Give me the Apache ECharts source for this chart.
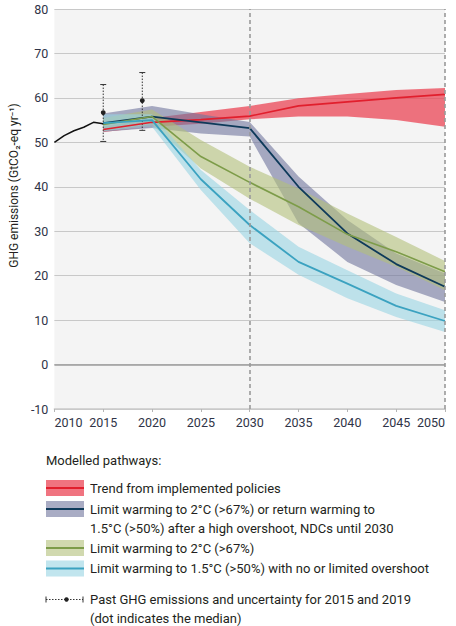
<!DOCTYPE html>
<html>
<head>
<meta charset="utf-8">
<script src="https://cdn.jsdelivr.net/npm/echarts@6/dist/echarts.min.js"></script>
<style>
  html, body { margin: 0; padding: 0; background: #fff; }
  #chart { width: 456px; height: 626px; }
</style>
</head>
<body>
<div id="chart"></div>
<script>
// past emissions (black line)
const histYears = [2010, 2011, 2012, 2013, 2014, 2015];
const histValues = [50.0, 51.5, 52.6, 53.4, 54.5, 54.2];

// past emissions uncertainty 2015 / 2019
const pastYears = [2015, 2019];
const pastMedian = [56.7, 59.4];
const pastLow = [50.2, 52.7];
const pastHigh = [63.0, 65.7];

// modelled pathways
const pathYears = [2015, 2020, 2025, 2030, 2035, 2040, 2045, 2050];

const policyMid = [52.9, 54.5, 55.1, 55.9, 58.2, 59.1, 60.0, 60.8];
const policyLow = [52.3, 53.5, 54.2, 55.2, 55.8, 55.8, 55.0, 53.5];
const policyHigh = [53.5, 55.5, 56.8, 58.2, 59.9, 60.9, 61.8, 62.2];

const ndcMid = [54.3, 55.8, 54.5, 53.2, 40.0, 29.5, 22.6, 17.5];
const ndcLow = [52.4, 53.2, 52.0, 51.3, 31.8, 23.1, 17.9, 14.1];
const ndcHigh = [56.5, 58.2, 56.3, 54.6, 42.3, 32.5, 25.0, 20.5];

const c2Mid = [54.0, 55.8, 46.8, 41.0, 35.5, 29.3, 25.4, 20.9];
const c2Low = [52.6, 54.0, 44.1, 37.3, 31.4, 26.5, 22.0, 16.7];
const c2High = [55.5, 57.4, 50.5, 44.5, 39.6, 34.0, 28.7, 23.3];

const c15Mid = [54.3, 55.0, 41.7, 31.4, 23.1, 18.2, 13.2, 9.8];
const c15Low = [52.5, 53.5, 39.3, 27.3, 20.2, 14.9, 10.7, 7.3];
const c15High = [56.3, 56.3, 43.8, 34.8, 26.5, 21.2, 16.0, 12.2];

// axis ticks
const yMin = -10, yMax = 80, yStep = 10;
const xMin = 2010, xMax = 2050, xStep = 5;

// legend texts
const legendTitle = "Modelled pathways:";
const legendLabels = [
  "Trend from implemented policies",
  "Limit warming to 2°C (>67%) or return warming to\n1.5°C (>50%) after a high overshoot, NDCs until 2030",
  "Limit warming to 2°C (>67%)",
  "Limit warming to 1.5°C (>50%) with no or limited overshoot",
];
const pastLabel = "Past GHG emissions and uncertainty for 2015 and 2019\n(dot indicates the median)";

// colours
const bandColors = ["rgba(235,69,85,0.75)", "rgba(111,117,157,0.6)", "rgba(179,192,121,0.6)", "rgba(152,212,227,0.6)"];
const lineColors = ["#e11f2d", "#0e3a5a", "#7d9c49", "#3ba2c0"];

const FONT = "Roboto, 'Noto Sans', sans-serif";
const LEGEND_FONT = "13px " + FONT;

function pairs(xs, ys) {
  return xs.map((x, i) => [x, ys[i]]);
}

// band drawn as one polygon: upper edge left->right, lower edge back
function bandSeries(key, low, high, mid, idx, lineWidth) {
  return [
    {
      name: key + "-band",
      type: "custom",
      encode: { x: 0, y: [1, 2] },
      data: pathYears.map((x, i) => [x, low[i], high[i]]),
      renderItem: function (params, api) {
        if (params.dataIndex !== 0) return null;
        const top = pathYears.map((x, i) => api.coord([x, high[i]]));
        const bot = pathYears.map((x, i) => api.coord([x, low[i]])).reverse();
        return {
          type: "polygon",
          shape: { points: top.concat(bot) },
          style: { fill: bandColors[idx] },
        };
      },
    },
    {
      name: key,
      type: "line",
      symbol: "none",
      lineStyle: { color: lineColors[idx], width: lineWidth },
      data: pairs(pathYears, mid),
    },
  ];
}

// error bars for 2015 and 2019
function renderPast(params, api) {
  const x = api.value(0);
  const top = api.coord([x, api.value(3)]);
  const bot = api.coord([x, api.value(2)]);
  const mid = api.coord([x, api.value(1)]);
  const stroke = "#333";
  return {
    type: "group",
    children: [
      { type: "line", shape: { x1: top[0], y1: top[1], x2: bot[0], y2: bot[1] }, style: { stroke: stroke, lineWidth: 1, lineDash: [1.5, 1.5] } },
      { type: "line", shape: { x1: top[0] - 3, y1: top[1], x2: top[0] + 3, y2: top[1] }, style: { stroke: stroke, lineWidth: 1 } },
      { type: "line", shape: { x1: bot[0] - 3, y1: bot[1], x2: bot[0] + 3, y2: bot[1] }, style: { stroke: stroke, lineWidth: 1 } },
      { type: "circle", shape: { cx: mid[0], cy: mid[1], r: 2.4 }, style: { fill: "#222" } },
    ],
  };
}

// legend drawn with graphic elements (band + centre line)
function buildLegend() {
  const els = [];
  const left = 46, textX = 90, boxW = 38, boxH = 16;
  els.push({
    type: "text", x: left, y: 454,
    style: { text: legendTitle, font: LEGEND_FONT, fill: "#231f20" },
  });
  const rowTops = [480, 501, 540, 560.5];
  legendLabels.forEach((label, i) => {
    const t = rowTops[i];
    els.push({ type: "rect", shape: { x: left, y: t, width: boxW, height: boxH }, style: { fill: bandColors[i] } });
    els.push({ type: "line", shape: { x1: left, y1: t + boxH / 2, x2: left + boxW, y2: t + boxH / 2 }, style: { stroke: lineColors[i], lineWidth: 2.2 } });
    els.push({
      type: "text", x: textX, y: t - 1.5,
      style: { text: label, font: LEGEND_FONT, fill: "#231f20", lineHeight: 19, verticalAlign: "top" },
    });
  });
  const py = 599.5;
  els.push({ type: "line", shape: { x1: left, y1: py, x2: left + 37, y2: py }, style: { stroke: "#333", lineWidth: 1, lineDash: [1.5, 1.5] } });
  els.push({ type: "line", shape: { x1: left, y1: py - 3, x2: left, y2: py + 3 }, style: { stroke: "#333", lineWidth: 1 } });
  els.push({ type: "line", shape: { x1: left + 37, y1: py - 3, x2: left + 37, y2: py + 3 }, style: { stroke: "#333", lineWidth: 1 } });
  els.push({ type: "circle", shape: { cx: left + 20.5, cy: py, r: 2.2 }, style: { fill: "#222" } });
  els.push({
    type: "text", x: textX, y: py - 9.5,
    style: { text: pastLabel, font: LEGEND_FONT, fill: "#231f20", lineHeight: 19, verticalAlign: "top" },
  });
  return els;
}

function setChart() {
  let myChart = echarts.init(document.getElementById("chart"), null, { renderer: "svg" });

  let series = [];
  // zero line under everything
  series.push({
    name: "zero",
    type: "line",
    data: [],
    markLine: {
      silent: true,
      symbol: "none",
      label: { show: false },
      lineStyle: { color: "#9d9d9d", width: 1.6, type: "solid" },
      data: [{ yAxis: 0 }],
    },
  });
  series = series.concat(bandSeries("policies", policyLow, policyHigh, policyMid, 0, 1.6));
  series = series.concat(bandSeries("ndc", ndcLow, ndcHigh, ndcMid, 1, 1.8));
  series = series.concat(bandSeries("c2", c2Low, c2High, c2Mid, 2, 1.6));
  series = series.concat(bandSeries("c15", c15Low, c15High, c15Mid, 3, 1.8));

  series.push({
    name: "history",
    type: "line",
    symbol: "none",
    lineStyle: { color: "#111", width: 1.5 },
    data: pairs(histYears, histValues),
  });

  series.push({
    name: "past",
    type: "custom",
    renderItem: renderPast,
    encode: { x: 0, y: [1, 2, 3] },
    data: pastYears.map((x, i) => [x, pastMedian[i], pastLow[i], pastHigh[i]]),
    markLine: {
      silent: true,
      symbol: "none",
      label: { show: false },
      lineStyle: { color: "#9a9a9a", width: 1.6, type: [4, 3] },
      data: [{ xAxis: 2030 }, { xAxis: 2050 }],
    },
  });

  let option = {
    animation: false,
    backgroundColor: "#fff",
    grid: {
      left: 47,
      right: 11,
      top: 9,
      bottom: 217,
      show: true,
      backgroundColor: "#f4f4f4",
      borderWidth: 0,
    },
    xAxis: {
      type: "value",
      min: xMin,
      max: xMax,
      interval: xStep,
      axisLine: { show: true, onZero: false, lineStyle: { color: "#c9c9c9", width: 1.5 } },
      axisTick: { show: true, length: 3, lineStyle: { color: "#b5b5b5" } },
      splitLine: { show: false },
      axisLabel: {
        margin: 7,
        color: "#2f3447",
        fontFamily: FONT,
        fontSize: 12.5,
        alignMinLabel: "left",
        alignMaxLabel: "right",
        formatter: (v) => String(v),
      },
    },
    yAxis: {
      type: "value",
      min: yMin,
      max: yMax,
      interval: yStep,
      name: "GHG emissions (GtCO₂-eq yr⁻¹)",
      nameLocation: "middle",
      nameRotate: 90,
      nameGap: 32,
      nameTextStyle: { color: "#231f20", fontFamily: FONT, fontSize: 12, padding: [0, 0, 0, 47] },
      axisLine: { show: false },
      axisTick: { show: false },
      splitLine: { show: true, lineStyle: { color: "#c8c8c8", width: 1 } },
      axisLabel: { margin: 6, color: "#2f3447", fontFamily: FONT, fontSize: 12.5 },
    },
    graphic: buildLegend(),
    series: series,
  };
  myChart.setOption(option);
}
setChart();
</script>
</body>
</html>
